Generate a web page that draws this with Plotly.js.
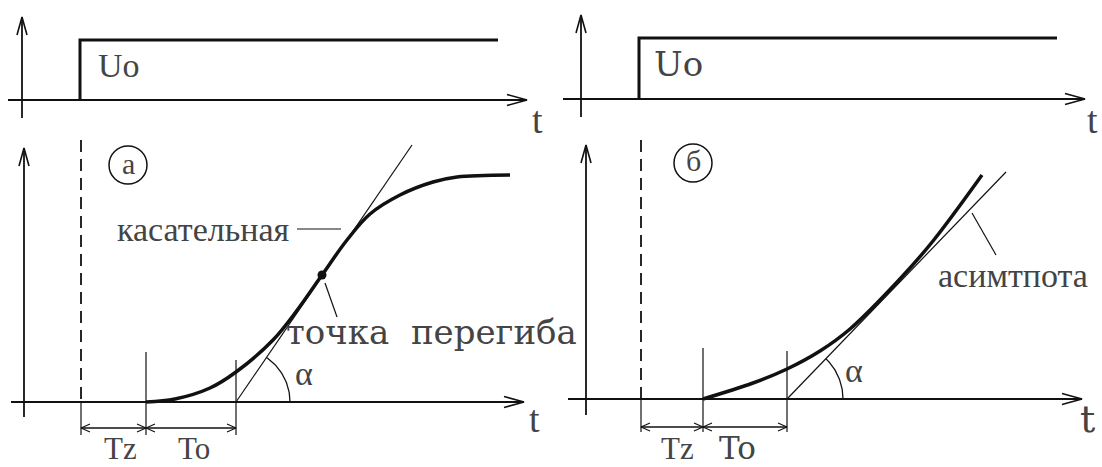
<!DOCTYPE html>
<html>
<head>
<meta charset="utf-8">
<script src="https://cdn.plot.ly/plotly-3.0.1.min.js"></script>
</head>
<body style="margin:0">
<div id="chart" style="width:1102px;height:467px"></div>
<script>
// ---------- DATA (diagram units) ----------
const tlAxisT = [-1.4, 50.5];
const tlAxisU = [-1.8, 8.3];
const tlStepT = [5.8, 5.8, 47.6];
const tlStepU = [0, 6.0, 6.0];

const trAxisT = [-1.8, 50.4];
const trAxisU = [-1.8, 8.4];
const trStepT = [5.8, 5.8, 47.6];
const trStepU = [0, 6.1, 6.1];

const blAxisT = [-1.3, 50.0];
const blAxisY = [-1.5, 25.4];
const blDelayT = 5.7;
const blDashY = [26.2, 0];
const blStartT = 12.2;
const blToEndT = 21.2;
const blCurveT = [12.2, 15.1, 18.6, 21.2, 24.9, 27.4, 29.8, 32.3, 34.6, 37.6, 40.9, 43.3, 48.6];
const blCurveY = [0, 0.3, 1.4, 3.0, 6.2, 9.3, 12.7, 16.2, 18.8, 20.7, 22.0, 22.5, 22.7];
const blTangentT = [21.2, 38.8];
const blTangentY = [0, 25.7];
const blInflection = [29.8, 12.7];

const brAxisT = [-1.8, 49.6];
const brAxisY = [-1.6, 25.4];
const brDelayT = 5.5;
const brDashY = [25.9, 0];
const brStartT = 11.7;
const brToEndT = 20.1;
const brCurveT = [11.7, 16.7, 20.1, 23.4, 26.4, 31.3, 34.7, 39.6];
const brCurveY = [0, 1.6, 3.0, 4.8, 7.0, 11.9, 15.8, 22.4];
const brAsymT = [20.1, 42.0];
const brAsymY = [0, 22.7];

const inputLabel = 'Uo';
const timeLabel = 't';
const delayLabel = 'Tz';
const lagLabel = 'To';
const angleLabel = 'α';
const panelLabels = ['а', 'б'];
const tangentLabel = 'касательная';
const inflectionLabel = 'точка  перегиба';
const asymptoteLabel = 'асимтпота';

// ---------- LAYOUT / DRAWING ----------
const W = 1102, H = 467, PX = 10;
const INK = '#111';
const FAM_A = 'Liberation Serif';
const FAM_B = 'DejaVu Serif';
const FAM_C = 'serif';
const FAM_D = 'Times New Roman';
const panels = [
  {ox: 22, oy: 100},
  {ox: 581, oy: 99},
  {ox: 24, oy: 402},
  {ox: 586, oy: 399}
];

const traces = [];
const annotations = [];

function axKeys(i) {
  const n = i === 0 ? '' : String(i + 1);
  return {x: 'x' + n, y: 'y' + n, p: panels[i]};
}
function line(k, xs, ys, width, dash, shape) {
  traces.push({
    x: xs, y: ys, xaxis: k.x, yaxis: k.y, mode: 'lines', hoverinfo: 'skip',
    line: {color: INK, width: width, dash: dash || 'solid', shape: shape || 'linear', smoothing: 1},
    showlegend: false, cliponaxis: false
  });
}
function chevron(k, tx, ty, dx, dy, len, half, width) {
  const bx = tx - dx * len, by = ty - dy * len;
  const px = -dy, py = dx;
  line(k, [bx + px * half, tx, bx - px * half], [by + py * half, ty, by - py * half], width);
}
function label(k, x, y, text, size, fam) {
  annotations.push({
    xref: 'paper', yref: 'paper',
    x: (k.p.ox + x * PX) / W, y: 1 - (k.p.oy - y * PX) / H,
    text: text, showarrow: false,
    xanchor: 'center', yanchor: 'middle',
    font: {family: fam || FAM_A, size: size}
  });
}
function axesArrows(k, axT, axY) {
  line(k, axT, [0, 0], 1.8);
  line(k, [0, 0], axY, 1.8);
  chevron(k, axT[1], 0, 1, 0, 2.0, 0.55, 1.6);
  chevron(k, 0, axY[1], 0, 1, 1.8, 0.5, 1.6);
}
function arc(k, cx, cy, r, slope, width) {
  const a1 = Math.atan(slope);
  const xs = [], ys = [];
  for (let i = 0; i <= 30; i++) {
    const a = a1 * i / 30;
    xs.push(cx + r * Math.cos(a));
    ys.push(cy + r * Math.sin(a));
  }
  line(k, xs, ys, width);
}
function dims(k, t0, t1, t2, dimY, extBot, ext1Top, ext2Top, dashTop) {
  line(k, [t0, t0], dashTop, 1.8, '12px,7px');
  line(k, [t0, t0], [0, extBot], 1.2);
  line(k, [t1, t1], [ext1Top, extBot], 1.2);
  line(k, [t2, t2], [ext2Top, extBot], 1.2);
  line(k, [t0, t1], [dimY, dimY], 1.3);
  line(k, [t1, t2], [dimY, dimY], 1.3);
  chevron(k, t0, dimY, -1, 0, 0.9, 0.4, 1.1);
  chevron(k, t1, dimY, 1, 0, 0.9, 0.4, 1.1);
  chevron(k, t1, dimY, -1, 0, 0.9, 0.4, 1.1);
  chevron(k, t2, dimY, 1, 0, 0.9, 0.4, 1.1);
}
function circleLabel(k, x, y, text) {
  traces.push({x: [x], y: [y], xaxis: k.x, yaxis: k.y, mode: 'markers', hoverinfo: 'skip', showlegend: false,
    marker: {symbol: 'circle-open', size: 38, color: INK, line: {width: 1.5}}, cliponaxis: false});
  label(k, x, y + 0.2, text, 30, FAM_C);
}

let k = axKeys(0);
axesArrows(k, tlAxisT, tlAxisU);
line(k, tlStepT, tlStepU, 3);
label(k, 9.7, 3.4, inputLabel, 34, FAM_A);
label(k, 51.5, -2.0, timeLabel, 38, FAM_C);

k = axKeys(1);
axesArrows(k, trAxisT, trAxisU);
line(k, trStepT, trStepU, 3);
label(k, 9.7, 3.5, inputLabel, 34, FAM_B);
label(k, 51.1, -2.1, timeLabel, 38, FAM_D);

k = axKeys(2);
axesArrows(k, blAxisT, blAxisY);
dims(k, blDelayT, blStartT, blToEndT, -2.6, -3.3, 5.0, 4.2, blDashY);
line(k, blTangentT, blTangentY, 1.2);
line(k, blCurveT, blCurveY, 3.5, 'solid', 'spline');
traces.push({x: [blInflection[0]], y: [blInflection[1]], xaxis: k.x, yaxis: k.y, mode: 'markers',
  hoverinfo: 'skip', showlegend: false, marker: {color: INK, size: 9}});
arc(k, blTangentT[0], 0, 5.4, (blTangentY[1] - blTangentY[0]) / (blTangentT[1] - blTangentT[0]), 1.3);
line(k, [27.3, 31.7], [17.3, 17.3], 1.2);
line(k, [30.1, 31.3], [11.9, 8.5], 1.2);
circleLabel(k, 10.4, 23.7, panelLabels[0]);
label(k, 17.9, 17.2, tangentLabel, 34, FAM_A);
label(k, 40.7, 7.0, inflectionLabel, 34, FAM_B);
label(k, 28.0, 2.9, angleLabel, 34, FAM_C);
label(k, 51.0, -1.7, timeLabel, 38, FAM_A);
label(k, 9.6, -4.6, delayLabel, 31, FAM_A);
label(k, 17.0, -4.6, lagLabel, 31, FAM_D);

k = axKeys(3);
axesArrows(k, brAxisT, brAxisY);
dims(k, brDelayT, brStartT, brToEndT, -2.8, -3.3, 5.1, 4.8, brDashY);
line(k, brAsymT, brAsymY, 1.2);
line(k, brCurveT, brCurveY, 3.5, 'solid', 'spline');
arc(k, brAsymT[0], 0, 5.6, (brAsymY[1] - brAsymY[0]) / (brAsymT[1] - brAsymT[0]), 1.3);
line(k, [38.6, 41.0], [18.6, 14.4], 1.2);
circleLabel(k, 10.7, 23.6, panelLabels[1]);
label(k, 42.7, 12.4, asymptoteLabel, 34, FAM_D);
label(k, 26.8, 2.9, angleLabel, 34, FAM_A);
label(k, 50.1, -2.0, timeLabel, 38, FAM_B);
label(k, 9.1, -4.9, delayLabel, 31, FAM_C);
label(k, 15.1, -4.9, lagLabel, 31, FAM_B);

const layout = {
  width: W, height: H,
  margin: {l: 0, r: 0, t: 0, b: 0},
  showlegend: false, annotations: annotations
};
panels.forEach((p, i) => {
  const n = i === 0 ? '' : String(i + 1);
  const xa = {domain: [0, 1], range: [-p.ox / PX, (W - p.ox) / PX], visible: false, anchor: 'y' + n};
  const ya = {domain: [0, 1], range: [(p.oy - H) / PX, p.oy / PX], visible: false, anchor: 'x' + n};
  if (i > 0) { xa.overlaying = 'x'; ya.overlaying = 'y'; }
  layout['xaxis' + n] = xa;
  layout['yaxis' + n] = ya;
});

Plotly.newPlot('chart', traces, layout, {displayModeBar: false});
</script>
</body>
</html>
